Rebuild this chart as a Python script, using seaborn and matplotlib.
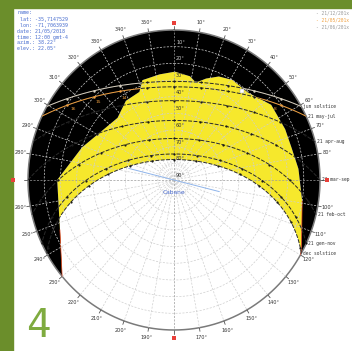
import numpy as np
import pandas as pd
import matplotlib
matplotlib.use("Agg")
import matplotlib.pyplot as plt
import seaborn as sns
from matplotlib.patches import Polygon, Rectangle
from matplotlib.path import Path

# --- data ---
site_lat = -35.7147529
info_lines = ["name:", " lat: -35,7147529", " lon: -71,7063939", "date: 21/05/2018",
              "time: 12:00 gmt-4", "azim.: 38.22\u00b0", "elev.: 22.05\u00b0"]

# sun paths (21st of the month), declination in degrees
path_names = ["jun solstice", "21 may-jul", "21 apr-aug", "21 mar-sep",
              "21 feb-oct", "21 gen-nov", "dec solstice"]
path_decl = [23.44, 20.2, 11.9, 0.0, -10.8, -20.1, -23.44]
hour_marks = list(range(4, 21))

# horizon obstruction profile: azimuth / elevation (deg)
obst_az = [230, 247, 270, 289, 317, 328, 338, 342, 352, 0.5, 9, 13, 18,
           24, 31, 41, 53, 66, 75, 85, 99, 118, 120]
obst_el = [0, 13.6, 18, 30, 39, 34, 33, 27, 26, 25, 27, 30, 26,
           22, 20, 20.5, 15, 15, 15, 13, 10, 1, 0]

elev_rings = [10, 20, 30, 40, 50, 60, 70, 80, 90]
azim_ticks = list(range(0, 360, 10))

legend_dates = ["- 21/12/201x", "- 21/05/201x", "- 21/06/201x"]
legend_cols = ["#9a9a9a", "#f0a040", "#9a9a9a"]


def proj(az, el):
    az = np.radians(np.asarray(az, dtype=float))
    r = (90 - np.asarray(el, dtype=float)) / 90
    return r * np.sin(az), r * np.cos(az)


def sun_path(decl, lat, hours=None):
    phi, d = np.radians(lat), np.radians(decl)
    h0 = np.arccos(-np.tan(phi) * np.tan(d))
    if hours is None:
        H = np.linspace(-h0, h0, 200)
    else:
        H = np.radians(15 * (np.asarray(hours) - 12))
        keep = np.abs(H) < h0
        H = H[keep]
    el = np.degrees(np.arcsin(np.sin(phi) * np.sin(d) + np.cos(phi) * np.cos(d) * np.cos(H)))
    az = np.degrees(np.arctan2(-np.sin(H) * np.cos(d),
                               np.cos(phi) * np.sin(d) - np.sin(phi) * np.cos(d) * np.cos(H)))
    if hours is None:
        return az % 360, np.clip(el, 0, 90)
    return az % 360, np.clip(el, 0, 90), np.asarray(hours)[keep]


sns.set_theme(style="white")
plt.rcParams['font.family'] = ['DejaVu Sans']

fig = plt.figure(figsize=(3.52, 3.51), dpi=100)
ax = fig.add_axes([0, 0, 1, 1])
ax.set_xlim(-174 / 146, 178 / 146)
ax.set_ylim((180 - 351) / 150, 180 / 150)
ax.axis("off")

# green frame + page number
fig.add_artist(Rectangle((0, 0), 13 / 352, 1, transform=fig.transFigure,
                         color="#6b8e2b", zorder=0))
fig.add_artist(Rectangle((0, 1 - 8 / 351), 1, 8 / 351, transform=fig.transFigure,
                         color="#6b8e2b", zorder=0))
fig.text(26 / 352, 1 - 337 / 351, "4", color="#7fab3f", fontsize=28,
         family=["Liberation Sans Narrow", "DejaVu Sans"],
         ha="left", va="baseline")

# --- sun band (yellow) between obstruction profile and december path ---
ox, oy = proj(obst_az, obst_el)
daz, del_ = sun_path(path_decl[-1], site_lat)
dx, dy = proj(daz, del_)
band = Polygon(np.column_stack([np.r_[ox, dx], np.r_[oy, dy]]), closed=True,
               facecolor="#f6e82c", edgecolor="none", zorder=1)
ax.add_patch(band)

# --- obstruction (black) from horizon to profile ---
hor_az = np.arange(230, 481, 2)
hx, hy = proj(hor_az, np.zeros_like(hor_az))
black_xy = np.column_stack([np.r_[hx, ox[::-1]], np.r_[hy, oy[::-1]]])
black = Polygon(black_xy, closed=True, facecolor="black", edgecolor="none", zorder=2)
ax.add_patch(black)
black_path = Path(black_xy)
ax.plot(ox[:2], oy[:2], color="#e04020", lw=0.5, zorder=2.5)
ax.plot(ox[-3:], oy[-3:], color="#e04020", lw=0.5, zorder=2.5)

# --- grid ---
circ = np.arange(0, 361, 2)
for e in elev_rings[:-1]:
    gx, gy = proj(circ, np.full_like(circ, e, dtype=float))
    ax.plot(gx, gy, color="#cfcfcf", lw=0.5, ls=(0, (3, 2)), zorder=3)
for a in azim_ticks:
    gx, gy = proj([a, a], [90, 0])
    main = a % 90 == 0
    ax.plot(gx, gy, color="#9a9a9a" if main else "#cfcfcf", lw=0.5,
            ls=(0, (3, 2)), zorder=3)

# horizon outline and ticks
gx, gy = proj(circ, np.zeros_like(circ))
ax.plot(gx, gy, color="#7a7a7a", lw=1.1, zorder=2.2)
for a in azim_ticks:
    tx, ty = proj([a, a], [0, -2.2])
    ax.plot(tx, ty, color="#555555", lw=0.6, zorder=2.2)

# --- sun paths ---
rows = []
dots = []
for name, dec in zip(path_names, path_decl):
    a, e = sun_path(dec, site_lat)
    x, y = proj(a, e)
    rows.append(pd.DataFrame({"x": x, "y": y, "path": name}))
    ha, he, hh = sun_path(dec, site_lat, hours=hour_marks)
    hx_, hy_ = proj(ha, he)
    dots.append(pd.DataFrame({"x": hx_, "y": hy_, "path": name, "hour": hh,
                              "az": ha, "el": he}))
paths = pd.concat(rows, ignore_index=True)
hour_dots = pd.concat(dots, ignore_index=True)

sns.lineplot(data=paths, x="x", y="y", units="path", estimator=None, sort=False,
             color="#2a2a2a", lw=0.7, ls=(0, (4, 1.5)), ax=ax, zorder=4, legend=False)
sns.scatterplot(data=hour_dots, x="x", y="y", color="#1a1a1a", s=2.5,
                linewidth=0, ax=ax, zorder=4.5, legend=False)

# highlighted days drawn over the obstruction
for name, col in [("jun solstice", "#d8d0c0"), ("21 may-jul", "#f0a040")]:
    sub = paths[paths["path"] == name]
    ln, = ax.plot(sub["x"], sub["y"], color=col, lw=0.7, zorder=4.8)
    ln.set_clip_path(black)
    hd = hour_dots[hour_dots["path"] == name]
    sc = ax.scatter(hd["x"], hd["y"], color=col, s=3, lw=0, zorder=4.9)
    sc.set_clip_path(black)

# hour numbers of the highlighted day where it crosses the obstruction
may = hour_dots[hour_dots["path"] == "21 may-jul"]
for _, row in may.iterrows():
    if row["el"] <= 0.5 or not black_path.contains_point((row["x"], row["y"])):
        continue
    lx, ly = proj(row["az"], row["el"] + 4.5)
    ax.text(lx, ly, f"{int(row['hour'])}", fontsize=3.2, color="#f0a040",
            ha="center", va="center", zorder=6)

# path labels at sunrise ends
for name, dec in zip(path_names, path_decl):
    a, e = sun_path(dec, site_lat)
    x, y = proj(a[0], 0)
    ax.text(x + 2 / 146, y, name, fontsize=3.3, family="DejaVu Sans Mono",
            color="#333333", ha="left", va="center", zorder=6)

# azimuth labels and cardinal markers
for a in azim_ticks:
    if a % 90 == 0:
        r = 1.05 if a != 270 else 1.1
        mx, my = np.sin(np.radians(a)) * r, np.cos(np.radians(a)) * r
        ax.plot(mx, my, marker="s", ms=2.2, color="#e8403a", mew=0, zorder=6)
        continue
    r = 1.065
    lx, ly = np.sin(np.radians(a)) * r, np.cos(np.radians(a)) * r
    ax.text(lx, ly, f"{a}\u00b0", fontsize=3.6, color="#333333",
            ha="center", va="center", zorder=6)

# elevation labels on the north axis
for e in elev_rings:
    r = (90 - e) / 90
    ax.text(0.014, r + 0.03, f"{e}\u00b0", fontsize=3.6,
            color="#cccccc" if e < 25 else "#333333", ha="left", va="center", zorder=6)

# object direction
cx, cy = proj([284, 104], [61.2, 61.2])
ax.plot(cx, cy, color="#8fb4ea", lw=0.7, zorder=5)
ax.text(0, -0.08, "Cabane", fontsize=4.3, color="#4466cc", ha="center", va="center", zorder=6)

# current sun position
px, py = proj(38.22, 22.05)
ax.plot(px, py, marker="s", ms=2.5, color="white", mec="#999999", mew=0.3, zorder=6)

# info box
for i, t in enumerate(info_lines):
    fig.text(17 / 352, 1 - (13 + 6 * i) / 351, t, fontsize=3.6, color="#4a6fd0",
             family="DejaVu Sans Mono", ha="left", va="center")

# legend of highlighted days
for i, (t, c) in enumerate(zip(legend_dates, legend_cols)):
    fig.text(316 / 352, 1 - (13 + 7 * i) / 351, t, fontsize=3.3, color=c,
             family="DejaVu Sans Mono", ha="left", va="center")

fig.savefig("out.png", dpi=100)
